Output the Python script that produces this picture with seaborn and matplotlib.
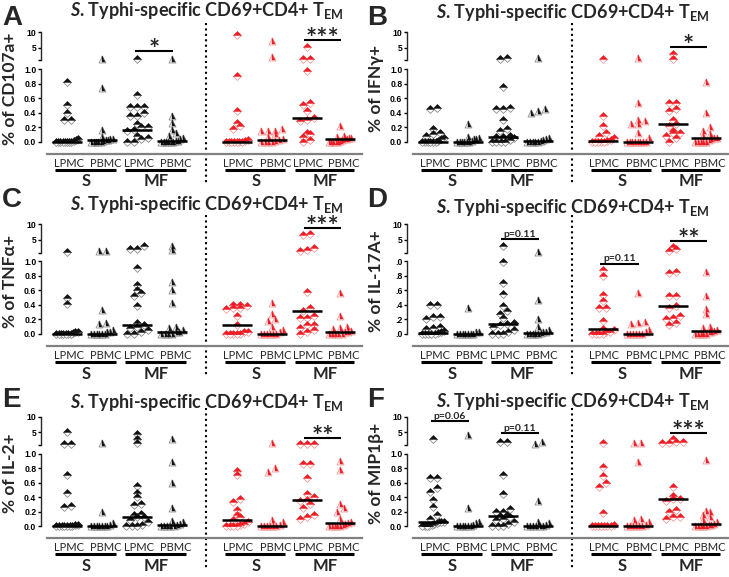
import numpy as np
import matplotlib
matplotlib.use("Agg")
import matplotlib.pyplot as plt
import matplotlib.transforms as mtransforms
from matplotlib.markers import MarkerStyle
import seaborn as sns

# ─── DATA ─────────────────────────────────────────────────────────────────────
# group order in every list: S-LPMC, S-PBMC, MF-LPMC, MF-PBMC
GROUP_LABELS = ["LPMC", "PBMC", "LPMC", "PBMC"]
PAIR_LABELS = ["S", "MF"]

cd107a_blk = [
    [0.83, 0.50, 0.39, 0.30, 0.30, 0.03, 0.02, 0.01, 0, 0, 0, 0, 0, 0, 0, 0],
    [1.5, 0.74, 0.16, 0.06, 0.04, 0.03, 0.02, 0.02, 0.01, 0, 0, 0, 0, 0],
    [1.5, 0.64, 0.48, 0.48, 0.48, 0.40, 0.36, 0.36, 0.25, 0.20, 0.20, 0.16, 0.15, 0.08, 0.05, 0.03, 0, 0],
    [1.5, 0.35, 0.26, 0.16, 0.12, 0.08, 0.05, 0.03, 0.01, 0.01, 0, 0, 0, 0, 0, 0],
]
cd107a_red = [
    [9.0, 0.90, 0.42, 0.26, 0.22, 0.17, 0.02, 0.01, 0, 0, 0, 0, 0, 0, 0],
    [7.0, 2.0, 0.17, 0.15, 0.14, 0.14, 0.10, 0.06, 0.04, 0.02, 0.01, 0, 0, 0, 0],
    [5.3, 1.6, 1.6, 0.98, 0.53, 0.51, 0.42, 0.32, 0.30, 0.28, 0.12, 0.10, 0.06, 0.02, 0],
    [0.22, 0.08, 0.06, 0.05, 0.05, 0.04, 0.03, 0.02, 0.01, 0, 0, 0, 0, 0],
]
cd107a_med = [0.0, 0.02, 0.16, 0.01, 0.0, 0.02, 0.32, 0.03]
cd107a_sig = [(2, 3, "*"), (6, 7, "***")]

ifng_blk = [
    [0.47, 0.45, 0.18, 0.12, 0.11, 0.08, 0.05, 0.03, 0.01, 0, 0, 0, 0, 0, 0],
    [0.25, 0.06, 0.05, 0.04, 0.03, 0.01, 0, 0, 0, 0, 0, 0],
    [1.9, 1.5, 0.75, 0.46, 0.45, 0.45, 0.30, 0.17, 0.15, 0.08, 0.07, 0.06, 0.05, 0.02, 0, 0, 0, 0],
    [1.9, 0.45, 0.42, 0.40, 0.05, 0.03, 0.02, 0.01, 0, 0, 0, 0, 0],
]
ifng_red = [
    [1.3, 0.35, 0.22, 0.12, 0.08, 0.05, 0.02, 0.01, 0, 0, 0, 0, 0],
    [1.9, 0.54, 0.30, 0.28, 0.25, 0.24, 0.12, 0.05, 0, 0, 0, 0, 0, 0, 0, 0],
    [2.9, 1.5, 0.54, 0.53, 0.45, 0.42, 0.30, 0.24, 0.22, 0.15, 0.12, 0.12, 0.08, 0.05, 0],
    [0.82, 0.40, 0.20, 0.15, 0.10, 0.08, 0.05, 0.05, 0.03, 0.02, 0, 0, 0, 0, 0],
]
ifng_med = [0.0, 0.0, 0.07, 0.01, 0.01, 0.0, 0.245, 0.05]
ifng_sig = [(6, 7, "*")]

tnfa_blk = [
    [1.2, 0.49, 0.41, 0.03, 0.02, 0.01, 0, 0, 0, 0, 0, 0, 0],
    [1.6, 1.5, 0.33, 0.15, 0.14, 0.05, 0.03, 0.02, 0, 0, 0, 0, 0, 0],
    [3.2, 2.1, 2.1, 0.91, 0.68, 0.60, 0.57, 0.52, 0.39, 0.15, 0.12, 0.10, 0.08, 0.05, 0.03, 0, 0],
    [3.1, 1.7, 0.72, 0.60, 0.43, 0.10, 0.08, 0.05, 0.03, 0.02, 0, 0, 0, 0],
]
tnfa_red = [
    [0.40, 0.40, 0.38, 0.36, 0.35, 0.34, 0.25, 0.12, 0.03, 0.02, 0, 0, 0, 0, 0],
    [0.42, 0.27, 0.20, 0.17, 0.10, 0.05, 0.03, 0, 0, 0, 0, 0, 0],
    [7.0, 6.5, 2.3, 1.8, 1.6, 0.58, 0.35, 0.32, 0.25, 0.22, 0.22, 0.12, 0.12, 0.08, 0.05, 0.02, 0],
    [0.56, 0.25, 0.10, 0.08, 0.06, 0.04, 0.02, 0.02, 0, 0, 0, 0, 0],
]
tnfa_med = [0.0, 0.0, 0.115, 0.02, 0.12, 0.0, 0.32, 0.02]
tnfa_sig = [(6, 7, "***")]

il17a_blk = [
    [0.40, 0.40, 0.23, 0.23, 0.21, 0.10, 0.08, 0.06, 0.04, 0.02, 0.01, 0, 0, 0, 0, 0],
    [0.35, 0.03, 0.02, 0, 0, 0, 0, 0, 0, 0],
    [3.2, 0.99, 0.70, 0.55, 0.39, 0.32, 0.28, 0.22, 0.15, 0.14, 0.12, 0.10, 0.05, 0.03, 0, 0, 0],
    [1.2, 0.46, 0.20, 0.10, 0.05, 0.03, 0.02, 0.01, 0, 0, 0, 0, 0],
]
il17a_red = [
    [0.88, 0.80, 0.53, 0.45, 0.36, 0.35, 0.18, 0.07, 0.05, 0.03, 0.02, 0, 0, 0, 0],
    [0.57, 0.16, 0.15, 0.14, 0.05, 0.02, 0, 0, 0, 0, 0, 0],
    [2.9, 2.1, 1.4, 0.86, 0.84, 0.52, 0.52, 0.38, 0.35, 0.25, 0.22, 0.20, 0.15, 0.12],
    [0.86, 0.52, 0.34, 0.28, 0.10, 0.08, 0.05, 0.04, 0.03, 0.02, 0, 0, 0, 0, 0],
]
il17a_med = [0.01, 0.0, 0.13, 0.01, 0.07, 0.0, 0.38, 0.04]
il17a_sig = [(2, 3, "p=0.11"), (4, 5, "p=0.11"), (6, 7, "**")]

il2_blk = [
    [5.0, 1.4, 1.4, 0.71, 0.46, 0.28, 0.27, 0.02, 0.01, 0, 0, 0, 0, 0, 0, 0],
    [1.6, 0.20, 0.04, 0.02, 0, 0, 0, 0, 0, 0, 0],
    [4.5, 2.8, 1.5, 0.55, 0.46, 0.40, 0.31, 0.29, 0.17, 0.15, 0.12, 0.12, 0.08, 0.05, 0.02, 0, 0, 0],
    [3.0, 0.88, 0.60, 0.25, 0.07, 0.05, 0.03, 0.01, 0, 0, 0, 0, 0],
]
il2_red = [
    [0.76, 0.70, 0.37, 0.33, 0.22, 0.15, 0.12, 0.08, 0.05, 0.03, 0.02, 0, 0, 0, 0],
    [1.5, 0.80, 0.75, 0.08, 0.05, 0.02, 0, 0, 0, 0, 0, 0],
    [1.4, 1.4, 1.4, 0.86, 0.86, 0.67, 0.45, 0.40, 0.36, 0.35, 0.30, 0.25, 0.15, 0.12, 0.10],
    [0.90, 0.78, 0.30, 0.25, 0.20, 0.10, 0.05, 0.04, 0.03, 0.02, 0, 0, 0, 0, 0],
]
il2_med = [0.0, 0.0, 0.13, 0.01, 0.08, 0.0, 0.36, 0.04]
il2_sig = [(6, 7, "**")]

mip1b_blk = [
    [2.9, 0.66, 0.66, 0.52, 0.47, 0.36, 0.26, 0.15, 0.10, 0.05, 0.05, 0.05, 0.04, 0.03, 0.02, 0, 0, 0, 0],
    [4.0, 0.25, 0.05, 0.04, 0.02, 0, 0, 0, 0, 0, 0],
    [1.9, 1.9, 0.70, 0.44, 0.24, 0.20, 0.20, 0.16, 0.14, 0.12, 0.10, 0.08, 0.05, 0.03, 0, 0, 0],
    [1.8, 1.4, 0.35, 0.06, 0.04, 0.02, 0, 0, 0, 0, 0, 0],
]
mip1b_red = [
    [1.5, 0.82, 0.69, 0.59, 0.54, 0.18, 0.02, 0, 0, 0, 0, 0, 0, 0],
    [1.6, 1.6, 0.88, 0.10, 0.09, 0.05, 0.02, 0, 0, 0, 0, 0, 0],
    [2.8, 2.0, 2.0, 1.6, 1.5, 0.54, 0.42, 0.38, 0.37, 0.35, 0.22, 0.20, 0.12, 0.12, 0.10],
    [0.91, 0.21, 0.20, 0.15, 0.12, 0.08, 0.05, 0.03, 0.02, 0.01, 0, 0, 0, 0, 0],
]
mip1b_med = [0.05, 0.0, 0.14, 0.0, 0.0, 0.0, 0.37, 0.03]
mip1b_sig = [(0, 1, "p=0.06"), (2, 3, "p=0.11"), (6, 7, "***")]

PANELS = [
    ("A", "% of CD107a+", cd107a_blk, cd107a_red, cd107a_med, cd107a_sig),
    ("B", "% of IFNγ+", ifng_blk, ifng_red, ifng_med, ifng_sig),
    ("C", "% of TNFα+", tnfa_blk, tnfa_red, tnfa_med, tnfa_sig),
    ("D", "% of IL-17A+", il17a_blk, il17a_red, il17a_med, il17a_sig),
    ("E", "% of IL-2+", il2_blk, il2_red, il2_med, il2_sig),
    ("F", "% of MIP1β+", mip1b_blk, mip1b_red, mip1b_med, mip1b_sig),
]
TITLE = r"$\mathit{S}$. Typhi-specific CD69+CD4+ T$_{\mathrm{EM}}$"

# ─── LAYOUT (pixels of the 729x577 figure) ────────────────────────────────────
W, H = 729, 577
XPOS = np.array([0, 1, 2, 3, 4.85, 5.85, 6.85, 7.8])
COL_X0 = [47, 413]
AX_W = 315
ROW_Y10 = [32, 224.2, 416.5]
UP_H, GAP, LO_H = 28.4, 8.8, 84.3
PX_UNIT = 72.4                      # px per 1.0 on the lower axis
LO_YMIN = -(LO_H - PX_UNIT) / PX_UNIT
TITLE_BASE = [16, 18, 210, 213, 408, 407]
LETTER_BASE = [25, 25, 207, 207, 407, 407]
SIG_Y = {"A": [4.0, 7.4], "B": [5.3], "C": [8.9], "D": [5.2, 0.97, 4.8],
         "E": [3.2], "F": [8.7, 4.8, 4.8]}

BLACK = "#111111"
GREY_EDGE = "#8c8c8c"
RED = "#EE1C25"
PINK_EDGE = "#F29B9B"

# ─── STYLE ────────────────────────────────────────────────────────────────────
sns.set_style("ticks")
plt.rcParams.update({
    "font.family": ["Lato", "DejaVu Sans"],
    "mathtext.fontset": "custom",
    "mathtext.rm": "Lato:bold",
    "mathtext.it": "Lato:bold:italic",
    "mathtext.bf": "Lato:bold",
    "axes.linewidth": 1.0,
})


def fy(py):
    return 1 - py / H


def spread(px, tol=4.0, step=0.2, maxw=0.62):
    """GraphPad-like horizontal scatter: points closer than tol px share a row."""
    order = np.argsort(px)
    offs = np.zeros(len(px))
    rows, cur = [], [order[0]]
    for k in order[1:]:
        if px[k] - px[cur[0]] <= tol:
            cur.append(k)
        else:
            rows.append(cur)
            cur = [k]
    rows.append(cur)
    for row in rows:
        n = len(row)
        st = step if n < 2 else min(step, maxw / (n - 1))
        offs[row] = (np.arange(n) - (n - 1) / 2) * st
    return offs


def draw_points(ax, x, y, kind, face, edge):
    if kind == "D":
        full, half, s = MarkerStyle("D"), MarkerStyle("D", fillstyle="top"), 16
    else:
        full, half, s = MarkerStyle("^"), MarkerStyle("^", fillstyle="right"), 25
    sns.scatterplot(x=x, y=y, marker=full, s=s, color="white", edgecolor=edge,
                    linewidth=0.6, ax=ax, legend=False, clip_on=False, zorder=3)
    sns.scatterplot(x=x, y=y, marker=half, s=s, color=face, edgecolor=face,
                    linewidth=0.3, ax=ax, legend=False, clip_on=False, zorder=3)


fig = plt.figure(figsize=(W / 100, H / 100), dpi=100)

for i, (letter, ylab, blk, red, med, sig) in enumerate(PANELS):
    r, c = divmod(i, 2)
    x0, y10 = COL_X0[c], ROW_Y10[r]
    ygray = y10 + UP_H + GAP + LO_H

    ax_up = fig.add_axes([x0 / W, fy(y10 + UP_H), AX_W / W, UP_H / H])
    ax_lo = fig.add_axes([x0 / W, fy(ygray), AX_W / W, LO_H / H])
    xlim = (-20 / 35, (AX_W - 20) / 35)

    for ax in (ax_up, ax_lo):
        ax.set_xlim(*xlim)
        ax.set_facecolor("none")
        ax.set_xticks([])
        for side in ("top", "right"):
            ax.spines[side].set_visible(False)
        ax.spines["left"].set_position(("outward", 4))
        ax.spines["left"].set_linewidth(1.0)
        ax.tick_params(axis="y", length=2.5, width=1.0, pad=1.2, labelsize=6.2,
                       colors="black")
        ax.grid(False)

    ax_up.set_ylim(1, 10)
    ax_up.spines["bottom"].set_visible(False)
    ax_up.spines["left"].set_bounds(1, 10)
    ax_up.set_yticks([1, 5, 10])
    ax_up.set_yticklabels(["", "5", "10"])

    ax_lo.set_ylim(LO_YMIN, 1.0)
    ax_lo.spines["left"].set_bounds(0, 1)
    ax_lo.spines["bottom"].set_color("#808080")
    ax_lo.spines["bottom"].set_linewidth(1.6)
    ticks = [0, 0.2, 0.4, 0.6, 0.8, 1.0]
    ax_lo.set_yticks(ticks)
    if letter == "D":       # the reference crops the leading digit here
        ax_lo.set_yticklabels([".0", ".2", ".4", ".6", ".8", ".0"])
    else:
        ax_lo.set_yticklabels([f"{t:.1f}" for t in ticks])

    for ax in (ax_up, ax_lo):
        for lab in ax.get_yticklabels():
            lab.set_fontfamily("Liberation Sans")
            lab.set_fontweight("bold")

    # points and medians
    for g, vals in enumerate(list(blk) + list(red)):
        vals = np.asarray(vals, float)
        is_red = g >= 4
        kind = "D" if g % 2 == 0 else "^"
        face = RED if is_red else BLACK
        edge = PINK_EDGE if is_red else GREY_EDGE
        lo, hi = vals[vals <= 1], vals[vals > 1]
        if len(lo):
            draw_points(ax_lo, XPOS[g] + spread(lo * PX_UNIT), lo, kind, face, edge)
        if len(hi):
            draw_points(ax_up, XPOS[g] + spread((hi - 1) * UP_H / 9), hi, kind, face, edge)
        ax_lo.hlines(med[g], XPOS[g] - 0.43, XPOS[g] + 0.43, color="black",
                     lw=1.8, zorder=5)

    # significance bars
    for (ga, gb, txt), yv in zip(sig, SIG_Y[letter]):
        ax = ax_up if yv > 1 else ax_lo
        xa, xb = XPOS[ga] - 0.07, XPOS[gb] + 0.03
        ax.plot([xa, xb], [yv, yv], color="black", lw=1.5, clip_on=False,
                solid_capstyle="butt")
        star = txt.startswith("*")
        off = mtransforms.offset_copy(ax.transData, fig=fig, x=0,
                                      y=-5 if star else 1.5, units="points")
        ax.text((xa + xb) / 2, yv, txt, transform=off, ha="center",
                va="baseline", fontsize=19 if star else 7.5, fontweight="bold",
                clip_on=False)

    # dotted divider between the two halves
    tr = mtransforms.blended_transform_factory(ax_lo.transData, fig.transFigure)
    ax_lo.plot([3.97, 3.97], [fy(y10 - 9), fy(ygray + 30)], transform=tr,
               color="black", lw=1.5, ls=(0, (1, 1.6)), clip_on=False)

    # group labels under the axis
    for p in range(2):
        for j in range(2):
            g4 = 2 * p + j
            for half in range(2):
                g = g4 + 4 * half
                ax_lo.text(XPOS[g] + (0.05 if j == 0 else 0.12), fy(ygray + 9.5),
                           GROUP_LABELS[g4], transform=tr, ha="center",
                           va="center", fontsize=8)
        for half in range(2):
            ga, gb = 2 * p + 4 * half, 2 * p + 1 + 4 * half
            ax_lo.plot([XPOS[ga] - 0.34, XPOS[gb] + 0.39], [fy(ygray + 16)] * 2,
                       transform=tr, color="black", lw=2.2, clip_on=False,
                       solid_capstyle="butt")
            ax_lo.text((XPOS[ga] + XPOS[gb]) / 2 + 0.05, fy(ygray + 28),
                       PAIR_LABELS[p], transform=tr, ha="center", va="center",
                       fontsize=12, fontweight="bold")

    # title, panel letter, y label
    ax_lo.text(4.0, fy(TITLE_BASE[i]), TITLE, transform=tr, ha="center",
               va="baseline", fontsize=13, fontweight="bold")
    fig.text((2 if c == 0 else 367) / W, fy(LETTER_BASE[i]), letter,
             fontsize=20, fontweight="bold", family="Liberation Sans",
             va="baseline", ha="left")
    fig.text((x0 - 37) / W, fy(y10 + 57), ylab, rotation=90, ha="center",
             va="center", fontsize=12.5, fontweight="bold",
             family=["Lato", "DejaVu Sans"])

fig.savefig("out.png", dpi=100)
